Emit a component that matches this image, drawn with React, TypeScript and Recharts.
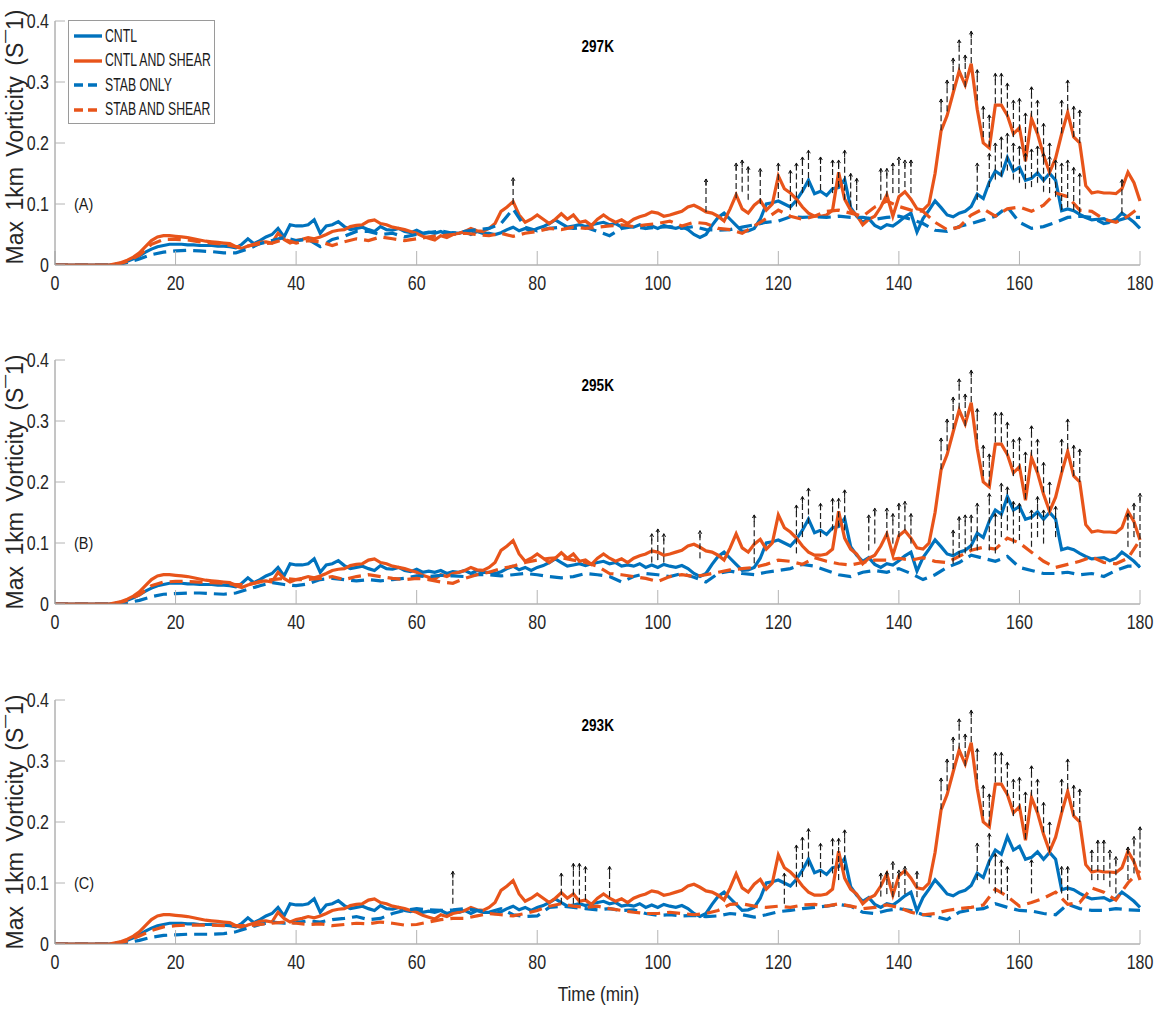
import React from "react";
import { ComposedChart, Line, Scatter, ErrorBar, XAxis, YAxis } from "recharts";

const BLUE = "#0072BD";
const ORANGE = "#E8541A";
const AXIS = "#8a8a8a";
const TICK = "#b4b4b4";
const SANS = "'Liberation Sans', Arial, sans-serif";

const X_TICKS = [0, 20, 40, 60, 80, 100, 120, 140, 160, 180];
const Y_TICKS = [0, 0.1, 0.2, 0.3, 0.4];

// minute of simulation, 0..180
const TIME = Array.from({ length: 181 }, (_, i) => i);

// solid runs: the same in every panel (one value per minute)
const CNTL = [
  0, 0, 0, 0, 0, 0, 0, 0, 0, 0,
  0.001, 0.003, 0.006, 0.01, 0.015, 0.021, 0.026, 0.03, 0.032, 0.034,
  0.034, 0.034, 0.033, 0.033, 0.032, 0.032, 0.032, 0.031, 0.031, 0.03,
  0.028, 0.034, 0.043, 0.035, 0.04, 0.046, 0.05, 0.06, 0.046, 0.066,
  0.064, 0.064, 0.066, 0.074, 0.052, 0.064, 0.066, 0.071, 0.063, 0.058,
  0.06, 0.062, 0.058, 0.055, 0.063, 0.058, 0.057, 0.06, 0.055, 0.053,
  0.057, 0.052, 0.054, 0.052, 0.055, 0.05, 0.053, 0.052, 0.055, 0.05,
  0.055, 0.052, 0.052, 0.05, 0.053, 0.058, 0.062, 0.056, 0.06, 0.055,
  0.06, 0.063, 0.068, 0.074, 0.068, 0.062, 0.064, 0.066, 0.063, 0.066,
  0.068, 0.07, 0.066, 0.068, 0.062, 0.064, 0.062, 0.066, 0.06, 0.064,
  0.06, 0.065, 0.062, 0.06, 0.063, 0.058, 0.05, 0.045, 0.05, 0.065,
  0.078, 0.085, 0.075, 0.065, 0.055, 0.056, 0.06, 0.075, 0.1, 0.102,
  0.105, 0.1, 0.095, 0.106, 0.121, 0.139, 0.117, 0.121, 0.114, 0.125,
  0.127, 0.14, 0.094, 0.08, 0.07, 0.076, 0.065, 0.06, 0.066, 0.064,
  0.071, 0.079, 0.085, 0.054, 0.076, 0.09, 0.105, 0.094, 0.082, 0.079,
  0.085, 0.088, 0.096, 0.116, 0.109, 0.136, 0.154, 0.147, 0.176, 0.154,
  0.16, 0.139, 0.142, 0.151, 0.139, 0.15, 0.139, 0.089, 0.092, 0.089,
  0.083, 0.078, 0.074, 0.075, 0.076, 0.071, 0.075, 0.085, 0.078, 0.07,
  0.06,
];

const CNTL_SHEAR = [
  0, 0, 0, 0, 0, 0, 0, 0, 0, 0,
  0.002, 0.004, 0.008, 0.013, 0.02, 0.03, 0.04, 0.046, 0.048, 0.048,
  0.047, 0.046, 0.045, 0.043, 0.041, 0.039, 0.038, 0.037, 0.036, 0.035,
  0.03, 0.027, 0.031, 0.034, 0.037, 0.038, 0.036, 0.052, 0.042, 0.036,
  0.04, 0.042, 0.045, 0.043, 0.046, 0.05, 0.055, 0.057, 0.058, 0.063,
  0.065, 0.066, 0.072, 0.074, 0.068, 0.066, 0.062, 0.06, 0.058, 0.055,
  0.052, 0.047, 0.044, 0.041, 0.048, 0.045, 0.05, 0.052, 0.055, 0.06,
  0.056, 0.055, 0.06, 0.068, 0.088, 0.095, 0.104, 0.082, 0.07, 0.075,
  0.082, 0.075, 0.068, 0.075, 0.084, 0.075, 0.082, 0.07, 0.072, 0.065,
  0.075, 0.082, 0.075, 0.07, 0.074, 0.068, 0.075, 0.079, 0.082, 0.087,
  0.085, 0.08, 0.082, 0.085, 0.088, 0.095, 0.098, 0.093, 0.087, 0.085,
  0.08, 0.072, 0.092, 0.115, 0.092, 0.085, 0.098, 0.106, 0.09, 0.1,
  0.146, 0.125, 0.118, 0.108, 0.095, 0.085, 0.08, 0.08, 0.082, 0.09,
  0.152, 0.108, 0.09, 0.082, 0.066, 0.075, 0.08, 0.095, 0.115, 0.08,
  0.112, 0.12, 0.108, 0.092, 0.09, 0.1, 0.15, 0.22, 0.245, 0.282,
  0.318, 0.295, 0.33, 0.255, 0.2, 0.192, 0.262, 0.262, 0.245, 0.215,
  0.225, 0.17, 0.24, 0.215, 0.18, 0.152, 0.175, 0.215, 0.25, 0.21,
  0.2, 0.13, 0.118, 0.12, 0.118, 0.118, 0.117, 0.125, 0.152, 0.135,
  0.105,
];

// dashed runs, one value every 2 minutes (0, 2, ... 180)
const STAB_297 = [
  0, 0, 0, 0, 0, 0, 0.004, 0.01, 0.017, 0.021,
  0.023, 0.024, 0.023, 0.022, 0.02, 0.02, 0.026, 0.035, 0.04, 0.045,
  0.04, 0.042, 0.03, 0.042, 0.047, 0.055, 0.055, 0.05, 0.052, 0.046,
  0.05, 0.053, 0.056, 0.052, 0.055, 0.058, 0.06, 0.068, 0.092, 0.062,
  0.056, 0.06, 0.062, 0.06, 0.062, 0.055, 0.048, 0.06, 0.063, 0.06,
  0.062, 0.063, 0.06, 0.063, 0.058, 0.057, 0.058, 0.062, 0.066, 0.07,
  0.072, 0.079, 0.078, 0.079, 0.078, 0.08, 0.078, 0.078, 0.075, 0.078,
  0.08, 0.075, 0.068, 0.057, 0.055, 0.063, 0.068, 0.074, 0.08, 0.095,
  0.07, 0.06, 0.063, 0.07, 0.078, 0.08, 0.078, 0.068, 0.072, 0.078,
  0.078,
];
const STAB_SHEAR_297 = [
  0, 0, 0, 0, 0, 0, 0.006, 0.016, 0.034, 0.042,
  0.042, 0.041, 0.038, 0.036, 0.034, 0.03, 0.031, 0.035, 0.036, 0.042,
  0.036, 0.04, 0.038, 0.032, 0.038, 0.043, 0.04, 0.046, 0.043, 0.04,
  0.043, 0.046, 0.048, 0.05, 0.052, 0.05, 0.048, 0.052, 0.047, 0.052,
  0.055, 0.06, 0.058, 0.062, 0.06, 0.062, 0.064, 0.066, 0.063, 0.066,
  0.068, 0.072, 0.064, 0.07, 0.068, 0.06, 0.058, 0.052, 0.064, 0.076,
  0.09, 0.08, 0.075, 0.08, 0.088, 0.09, 0.085, 0.08, 0.095, 0.105,
  0.096, 0.09, 0.088, 0.07, 0.058, 0.062, 0.082, 0.092, 0.08, 0.092,
  0.095, 0.088, 0.098, 0.118, 0.112, 0.09, 0.088, 0.075, 0.07, 0.08,
  0.095,
];
const STAB_295 = [
  0, 0, 0, 0, 0, 0, 0.002, 0.006, 0.012, 0.016,
  0.017, 0.018, 0.018, 0.017, 0.016, 0.018, 0.024, 0.03, 0.035, 0.032,
  0.03, 0.033, 0.04, 0.042, 0.04, 0.038, 0.04, 0.038, 0.04, 0.042,
  0.046, 0.045, 0.047, 0.046, 0.045, 0.048, 0.048, 0.046, 0.048, 0.05,
  0.048, 0.045, 0.043, 0.045, 0.05, 0.048, 0.045, 0.036, 0.045, 0.05,
  0.048, 0.045, 0.05, 0.044, 0.036, 0.05, 0.054, 0.05, 0.048, 0.052,
  0.055, 0.058, 0.065, 0.062, 0.055, 0.048, 0.045, 0.052, 0.055, 0.052,
  0.058, 0.05, 0.04, 0.048, 0.06, 0.068, 0.08, 0.075, 0.07, 0.078,
  0.06, 0.055, 0.05, 0.05, 0.052, 0.048, 0.05, 0.045, 0.055, 0.062,
  0.062,
];
const STAB_SHEAR_295 = [
  0, 0, 0, 0, 0, 0, 0.006, 0.015, 0.03, 0.036,
  0.037, 0.037, 0.036, 0.035, 0.034, 0.032, 0.032, 0.036, 0.04, 0.042,
  0.04, 0.04, 0.042, 0.045, 0.04, 0.045, 0.048, 0.045, 0.042, 0.04,
  0.042, 0.04, 0.036, 0.034, 0.042, 0.048, 0.052, 0.058, 0.062, 0.068,
  0.072, 0.075, 0.076, 0.072, 0.068, 0.062, 0.05, 0.048, 0.045, 0.042,
  0.037, 0.045, 0.048, 0.045, 0.048, 0.052, 0.056, 0.058, 0.06, 0.065,
  0.072, 0.07, 0.065, 0.076, 0.07, 0.066, 0.064, 0.068, 0.072, 0.072,
  0.075, 0.072, 0.076, 0.07, 0.068, 0.078, 0.088, 0.093, 0.09, 0.108,
  0.1, 0.085, 0.07, 0.06, 0.065, 0.07, 0.077, 0.068, 0.066, 0.075,
  0.105,
];
const STAB_293 = [
  0, 0, 0, 0, 0, 0, 0.002, 0.006, 0.011, 0.014,
  0.015, 0.016, 0.016, 0.016, 0.017, 0.02, 0.026, 0.032, 0.036, 0.034,
  0.035, 0.038, 0.036, 0.04, 0.042, 0.045, 0.04, 0.042, 0.05, 0.055,
  0.058, 0.056, 0.055, 0.056, 0.058, 0.055, 0.052, 0.058, 0.048, 0.045,
  0.046, 0.06, 0.062, 0.06, 0.058, 0.056, 0.058, 0.055, 0.056, 0.05,
  0.047, 0.048, 0.046, 0.047, 0.045, 0.046, 0.05, 0.048, 0.044, 0.048,
  0.053, 0.055, 0.058, 0.06, 0.062, 0.065, 0.062, 0.052, 0.05, 0.055,
  0.058, 0.055, 0.048, 0.045, 0.04, 0.052, 0.056, 0.058, 0.066, 0.06,
  0.055, 0.054, 0.05, 0.048, 0.065, 0.058, 0.055, 0.055, 0.058, 0.056,
  0.055,
];
const STAB_SHEAR_293 = [
  0, 0, 0, 0, 0, 0, 0.005, 0.013, 0.022, 0.028,
  0.03, 0.031, 0.031, 0.031, 0.03, 0.03, 0.03, 0.032, 0.034, 0.036,
  0.034, 0.032, 0.033, 0.03, 0.032, 0.034, 0.033, 0.036, 0.034, 0.031,
  0.032, 0.036, 0.04, 0.042, 0.042, 0.046, 0.05, 0.048, 0.046, 0.05,
  0.055, 0.062, 0.066, 0.062, 0.06, 0.062, 0.058, 0.055, 0.052, 0.05,
  0.05, 0.052, 0.05, 0.048, 0.05, 0.055, 0.065, 0.066, 0.062, 0.06,
  0.062, 0.06, 0.064, 0.065, 0.062, 0.066, 0.062, 0.058, 0.06, 0.064,
  0.06, 0.052, 0.048, 0.05, 0.055, 0.058, 0.06, 0.064, 0.09, 0.078,
  0.062, 0.068, 0.075, 0.085, 0.065, 0.068, 0.092, 0.085, 0.072, 0.1,
  0.12,
];

// significance marks: [minute, bottom, top]
const SIG_PEAK: [number, number, number][] = [
  [147, 0.221, 0.272], [148, 0.252, 0.303], [149, 0.287, 0.339], [150, 0.32, 0.369],
  [151, 0.292, 0.344], [152, 0.331, 0.383], [153, 0.27, 0.32], [154, 0.21, 0.26],
  [155, 0.194, 0.246], [156, 0.265, 0.314], [157, 0.265, 0.314], [158, 0.243, 0.298],
  [159, 0.21, 0.27], [160, 0.221, 0.273], [161, 0.172, 0.249], [162, 0.243, 0.292],
  [163, 0.216, 0.27], [164, 0.183, 0.232], [165, 0.15, 0.2], [167, 0.216, 0.27],
  [168, 0.254, 0.303], [169, 0.21, 0.26], [170, 0.2, 0.254],
];
const SIG_297: [number, number, number][] = [
  [76, 0.1, 0.143], [108, 0.087, 0.141], [113, 0.11, 0.167], [114, 0.12, 0.172],
  [115, 0.107, 0.161], [117, 0.1, 0.158], [120, 0.11, 0.167], [122, 0.09, 0.155],
  [123, 0.096, 0.167], [124, 0.118, 0.177], [125, 0.128, 0.188], [127, 0.123, 0.177],
  [129, 0.118, 0.172], [130, 0.128, 0.172], [131, 0.107, 0.188], [132, 0.096, 0.15],
  [133, 0.09, 0.142], [137, 0.107, 0.158], [138, 0.112, 0.158], [139, 0.118, 0.167],
  [140, 0.118, 0.177], [141, 0.128, 0.172], [142, 0.118, 0.172],
  [153, 0.107, 0.167], [155, 0.128, 0.183], [156, 0.14, 0.2], [157, 0.145, 0.21],
  [158, 0.155, 0.216], [159, 0.14, 0.2], [160, 0.135, 0.195], [161, 0.125, 0.183],
  [162, 0.128, 0.19], [163, 0.135, 0.195], [164, 0.12, 0.183], [165, 0.118, 0.178],
  [166, 0.112, 0.172], [167, 0.09, 0.167], [168, 0.095, 0.172], [169, 0.09, 0.16],
  [170, 0.085, 0.15], [177, 0.085, 0.14],
];
const SIG_295: [number, number, number][] = [
  [99, 0.068, 0.115], [100, 0.072, 0.123], [101, 0.068, 0.115], [107, 0.075, 0.12],
  [116, 0.067, 0.146], [123, 0.083, 0.162], [124, 0.11, 0.176], [125, 0.132, 0.19],
  [127, 0.11, 0.165], [129, 0.121, 0.173], [130, 0.127, 0.173], [131, 0.121, 0.187],
  [135, 0.088, 0.146], [136, 0.099, 0.157], [138, 0.11, 0.157], [139, 0.099, 0.148],
  [140, 0.11, 0.165], [141, 0.121, 0.168], [142, 0.099, 0.148],
  [149, 0.066, 0.121], [150, 0.077, 0.143], [151, 0.083, 0.146], [152, 0.088, 0.146],
  [153, 0.088, 0.165], [155, 0.088, 0.181], [156, 0.083, 0.148], [157, 0.11, 0.198],
  [158, 0.121, 0.192], [159, 0.099, 0.168], [160, 0.105, 0.165], [162, 0.094, 0.154],
  [163, 0.11, 0.176], [164, 0.099, 0.154], [166, 0.11, 0.16],
  [178, 0.094, 0.148], [179, 0.11, 0.165], [180, 0.077, 0.181],
];
const SIG_293: [number, number, number][] = [
  [66, 0.066, 0.119], [84, 0.066, 0.116], [86, 0.066, 0.132], [87, 0.066, 0.132],
  [88, 0.072, 0.127], [92, 0.077, 0.127], [121, 0.066, 0.116], [123, 0.094, 0.162],
  [124, 0.11, 0.175], [125, 0.127, 0.189], [127, 0.11, 0.165], [129, 0.116, 0.173],
  [130, 0.105, 0.173], [131, 0.121, 0.187], [137, 0.078, 0.116], [138, 0.082, 0.119],
  [139, 0.077, 0.135], [140, 0.077, 0.121], [141, 0.082, 0.127], [143, 0.077, 0.119],
  [153, 0.105, 0.165], [155, 0.099, 0.181], [156, 0.083, 0.148], [157, 0.083, 0.138],
  [158, 0.072, 0.127], [162, 0.083, 0.138], [167, 0.083, 0.127], [168, 0.072, 0.127],
  [172, 0.105, 0.154], [173, 0.105, 0.17], [174, 0.105, 0.17], [175, 0.094, 0.154],
  [176, 0.083, 0.143], [178, 0.105, 0.159], [179, 0.116, 0.176], [180, 0.127, 0.192],
];

const SERIES = [
  { key: "cntl", name: "CNTL", color: BLUE, dash: undefined },
  { key: "cntlShear", name: "CNTL AND SHEAR", color: ORANGE, dash: undefined },
  { key: "stab", name: "STAB ONLY", color: BLUE, dash: "13 7" },
  { key: "stabShear", name: "STAB AND SHEAR", color: ORANGE, dash: "13 7" },
];

// the original uses a narrow Helvetica; squeeze Liberation Sans to match
function Narrow({ children, scale = 0.8, origin = "center" }: { children: React.ReactNode; scale?: number; origin?: string }) {
  return (
    <span style={{ display: "inline-block", transform: `scaleX(${scale})`, transformOrigin: origin, whiteSpace: "nowrap" }}>
      {children}
    </span>
  );
}

function AxisTick(props: any) {
  const { x, y, payload, textAnchor, side } = props;
  const v = payload.value;
  return (
    <text
      transform={`translate(${x},${y}) scale(0.8,1)`}
      textAnchor={textAnchor}
      dy={side === "left" ? "0.36em" : "0.72em"}
      fontFamily={SANS}
      fontSize={20}
      fill="#262626"
    >
      {v === 0 ? "0" : String(v)}
    </text>
  );
}

function ArrowMark(props: any) {
  const { cx, cy } = props;
  if (cx == null || cy == null) return null;
  return (
    <g stroke="#111" strokeWidth={1} fill="none">
      <path d={`M${cx - 1.8},${cy + 3} L${cx},${cy} L${cx + 1.8},${cy + 3}`} />
      <line x1={cx} y1={cy} x2={cx} y2={cy + 7} />
    </g>
  );
}

function Legend() {
  return (
    <div
      style={{
        position: "absolute",
        left: 68,
        top: 20,
        width: 145,
        height: 102,
        border: "1px solid #9a9a9a",
        background: "#fff",
        fontFamily: SANS,
        fontSize: 17.5,
        color: "#1a1a1a",
      }}
    >
      {SERIES.map((s, i) => (
        <div key={s.key} style={{ position: "absolute", left: 4, top: 5 + i * 24.5, height: 20, display: "flex", alignItems: "center" }}>
          <svg width={30} height={20}>
            <line x1={1} y1={10} x2={29} y2={10} stroke={s.color} strokeWidth={3.4} strokeDasharray={s.dash ? "9 5" : undefined} />
          </svg>
          <span style={{ marginLeft: 2 }}>
            <Narrow scale={0.7} origin="left center">{s.name}</Narrow>
          </span>
        </div>
      ))}
    </div>
  );
}

function Panel({
  top,
  title,
  tag,
  labelMid,
  stab,
  stabShear,
  sig,
  legend,
}: {
  top: number;
  title: string;
  tag: string;
  labelMid: number;
  stab: number[];
  stabShear: number[];
  sig: [number, number, number][];
  legend?: boolean;
}) {
  const rows = TIME.map((t, i) => ({
    t,
    cntl: CNTL[i],
    cntlShear: CNTL_SHEAR[i],
    stab: t % 2 === 0 ? stab[t / 2] : null,
    stabShear: t % 2 === 0 ? stabShear[t / 2] : null,
  }));
  const marks = sig.map(([t, lo, hi]) => ({ t, hi, err: [hi - lo, 0] }));

  return (
    <div style={{ position: "absolute", left: 0, top, width: 1157, height: 300 }}>
      <ComposedChart width={1157} height={300} data={rows} margin={{ top: 21, right: 17, bottom: 0, left: 0 }}>
        <XAxis
          dataKey="t"
          type="number"
          domain={[0, 180]}
          ticks={X_TICKS}
          interval={0}
          height={35}
          tickSize={-14}
          tickMargin={25}
          axisLine={{ stroke: AXIS }}
          tickLine={{ stroke: TICK }}
          tick={(p: any) => <AxisTick {...p} side="bottom" />}
        />
        <YAxis
          type="number"
          domain={[0, 0.4]}
          ticks={Y_TICKS}
          interval={0}
          allowDataOverflow
          width={55}
          tickSize={-10}
          tickMargin={16}
          axisLine={{ stroke: AXIS }}
          tickLine={{ stroke: TICK }}
          tick={(p: any) => <AxisTick {...p} side="left" />}
        />
        {SERIES.map((s) => (
          <Line
            key={s.key}
            dataKey={s.key}
            name={s.name}
            stroke={s.color}
            strokeWidth={3.2}
            strokeDasharray={s.dash}
            dot={false}
            connectNulls
            isAnimationActive={false}
          />
        ))}
        <Scatter data={marks} dataKey="hi" shape={(p: any) => <ArrowMark {...p} />} isAnimationActive={false}>
          <ErrorBar dataKey="err" direction="y" width={0} stroke="#222" strokeWidth={1.2} strokeDasharray="6 3" />
        </Scatter>
      </ComposedChart>
      <div
        style={{
          position: "absolute",
          left: 548,
          top: 37,
          width: 100,
          textAlign: "center",
          fontFamily: SANS,
          fontWeight: 700,
          fontSize: 16.5,
          color: "#000",
        }}
      >
        <Narrow scale={0.82}>{title}</Narrow>
      </div>
      <div style={{ position: "absolute", left: 74, top: 195, fontFamily: SANS, fontSize: 17, color: "#1a1a1a" }}>
        <Narrow scale={0.85} origin="left center">{tag}</Narrow>
      </div>
      <div
        style={{
          position: "absolute",
          left: 15 - 160,
          top: labelMid - 14,
          width: 320,
          height: 28,
          lineHeight: "28px",
          textAlign: "center",
          transform: "rotate(-90deg)",
          fontFamily: SANS,
          fontSize: 23,
          wordSpacing: 4,
          color: "#262626",
          whiteSpace: "nowrap",
        }}
      >
        Max 1km Vorticity (S¯1)
      </div>
      {legend && <Legend />}
    </div>
  );
}

export default function App() {
  return (
    <div style={{ position: "absolute", left: 0, top: 0, width: 1157, height: 1013, background: "#fff" }}>
      <Panel top={0} title="297K" tag="(A)" labelMid={137} stab={STAB_297} stabShear={STAB_SHEAR_297} sig={[...SIG_297, ...SIG_PEAK]} legend />
      <Panel top={339} title="295K" tag="(B)" labelMid={143} stab={STAB_295} stabShear={STAB_SHEAR_295} sig={[...SIG_295, ...SIG_PEAK]} />
      <Panel top={679} title="293K" tag="(C)" labelMid={143} stab={STAB_293} stabShear={STAB_SHEAR_293} sig={[...SIG_293, ...SIG_PEAK]} />
      <div
        style={{
          position: "absolute",
          left: 498,
          top: 983,
          width: 200,
          textAlign: "center",
          fontFamily: SANS,
          fontSize: 20,
          color: "#262626",
        }}
      >
        <Narrow scale={0.86}>Time (min)</Narrow>
      </div>
    </div>
  );
}
